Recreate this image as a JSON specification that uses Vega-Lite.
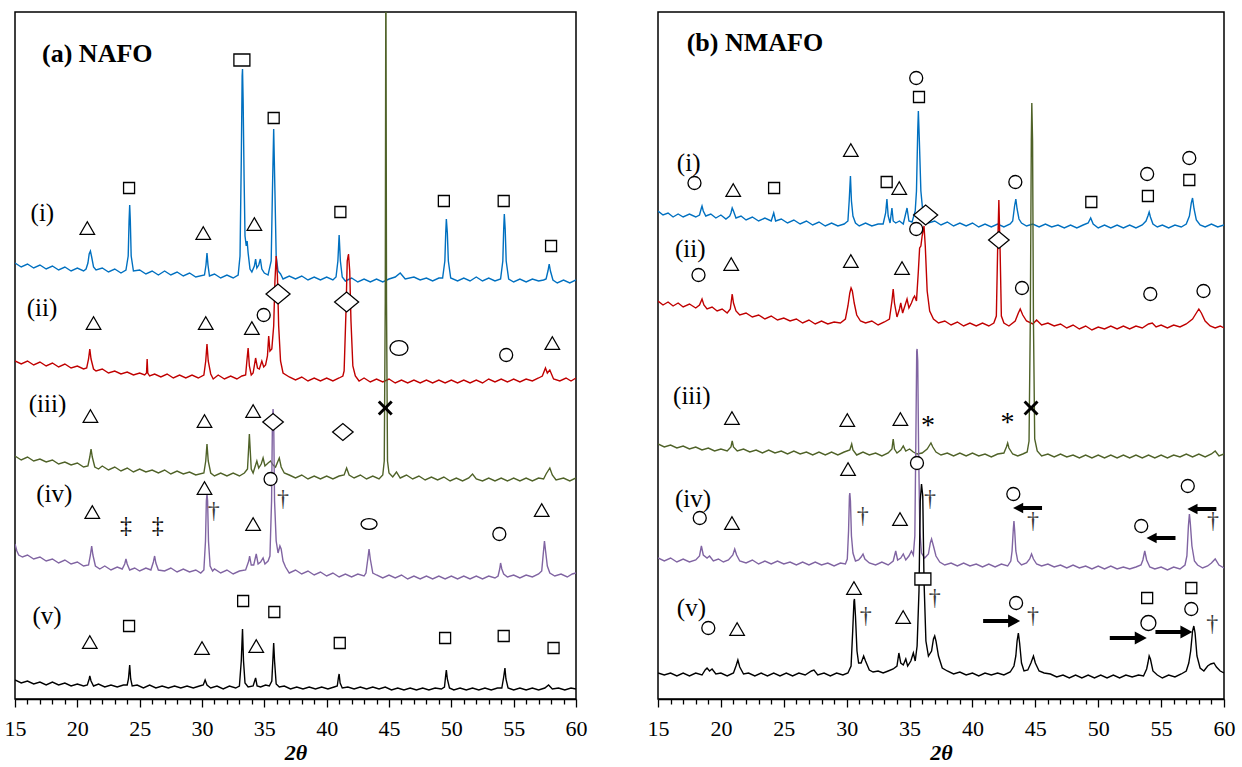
{
"$schema":"https://vega.github.io/schema/vega-lite/v6.json",
"background":"white",
"padding":{"left":3,"top":11,"right":0,"bottom":0},
"spacing":58,
"config":{"view":{"stroke":"black","strokeWidth":1.5},
"axis":{"labelFont":"Liberation Serif","labelFontSize":22,"labelColor":"black","labelFlush":false,"labelOverlap":false,"titleFont":"Liberation Serif","titleFontSize":22,"titleFontWeight":"bold","titleFontStyle":"italic","titleColor":"black","domainColor":"black","domainWidth":1.5,"tickColor":"black","tickWidth":1.3,"grid":false,"labelPadding":11,"titlePadding":3}},
"datasets":{
"L1":[{"x":15,"y":438},{"x":15.5,"y":434},{"x":16,"y":437},{"x":16.5,"y":433},{"x":17,"y":436},{"x":17.5,"y":432},{"x":18,"y":435},{"x":18.5,"y":431},{"x":19,"y":434},{"x":19.5,"y":430},{"x":20,"y":433},{"x":20.5,"y":430},{"x":20.7,"y":432},{"x":20.85,"y":438},{"x":20.95,"y":447},{"x":21.05,"y":450},{"x":21.15,"y":444},{"x":21.3,"y":434},{"x":21.5,"y":431},{"x":22,"y":433},{"x":22.5,"y":429},{"x":23,"y":432},{"x":23.5,"y":428},{"x":23.9,"y":431},{"x":24.08,"y":445},{"x":24.15,"y":480},{"x":24.2,"y":496},{"x":24.25,"y":480},{"x":24.32,"y":445},{"x":24.5,"y":430},{"x":25,"y":431},{"x":25.5,"y":427},{"x":26,"y":430},{"x":26.5,"y":426},{"x":27,"y":430},{"x":27.5,"y":426},{"x":28,"y":429},{"x":28.5,"y":425},{"x":29,"y":428},{"x":29.5,"y":424},{"x":30.2,"y":426},{"x":30.32,"y":436},{"x":30.4,"y":448},{"x":30.48,"y":436},{"x":30.6,"y":425},{"x":31,"y":427},{"x":31.5,"y":423},{"x":32,"y":426},{"x":32.5,"y":423},{"x":32.9,"y":426},{"x":33.05,"y":445},{"x":33.15,"y":540},{"x":33.22,"y":625},{"x":33.25,"y":632},{"x":33.3,"y":600},{"x":33.38,"y":520},{"x":33.45,"y":465},{"x":33.55,"y":455},{"x":33.62,"y":460},{"x":33.7,"y":448},{"x":33.85,"y":432},{"x":34,"y":429},{"x":34.2,"y":435},{"x":34.3,"y":442},{"x":34.4,"y":433},{"x":34.55,"y":436},{"x":34.68,"y":442},{"x":34.8,"y":432},{"x":35,"y":428},{"x":35.3,"y":426},{"x":35.55,"y":440},{"x":35.65,"y":510},{"x":35.75,"y":572},{"x":35.85,"y":510},{"x":35.95,"y":445},{"x":36.1,"y":430},{"x":36.3,"y":427},{"x":36.5,"y":422},{"x":37,"y":425},{"x":37.5,"y":422},{"x":38,"y":425},{"x":38.5,"y":421},{"x":39,"y":424},{"x":39.5,"y":421},{"x":40,"y":424},{"x":40.5,"y":421},{"x":40.75,"y":424},{"x":40.9,"y":440},{"x":41,"y":466},{"x":41.1,"y":440},{"x":41.25,"y":424},{"x":41.5,"y":420},{"x":42,"y":423},{"x":42.5,"y":419},{"x":43,"y":422},{"x":43.5,"y":419},{"x":44,"y":422},{"x":44.5,"y":419},{"x":45,"y":422},{"x":45.5,"y":424},{"x":45.9,"y":428},{"x":46.3,"y":422},{"x":47,"y":424},{"x":47.5,"y":421},{"x":48,"y":423},{"x":48.5,"y":420},{"x":49,"y":423},{"x":49.3,"y":423},{"x":49.48,"y":440},{"x":49.55,"y":468},{"x":49.6,"y":482},{"x":49.68,"y":468},{"x":49.76,"y":440},{"x":49.95,"y":423},{"x":50.5,"y":420},{"x":51,"y":423},{"x":51.5,"y":420},{"x":52,"y":424},{"x":52.5,"y":420},{"x":53,"y":423},{"x":53.5,"y":420},{"x":53.95,"y":422},{"x":54.13,"y":440},{"x":54.2,"y":472},{"x":54.25,"y":487},{"x":54.32,"y":472},{"x":54.4,"y":440},{"x":54.6,"y":422},{"x":55,"y":419},{"x":55.5,"y":422},{"x":56,"y":419},{"x":56.5,"y":422},{"x":57,"y":420},{"x":57.4,"y":421},{"x":57.6,"y":422},{"x":57.75,"y":430},{"x":57.85,"y":437},{"x":57.95,"y":430},{"x":58.15,"y":421},{"x":58.5,"y":418},{"x":59,"y":421},{"x":59.5,"y":418},{"x":60,"y":421}],
"L2":[{"x":15,"y":340},{"x":15.5,"y":337},{"x":16,"y":340},{"x":16.5,"y":336},{"x":17,"y":339},{"x":17.5,"y":335},{"x":18,"y":338},{"x":18.5,"y":334},{"x":19,"y":337},{"x":19.5,"y":333},{"x":20,"y":335},{"x":20.5,"y":332},{"x":20.75,"y":333},{"x":20.9,"y":342},{"x":21,"y":352},{"x":21.1,"y":342},{"x":21.3,"y":332},{"x":21.5,"y":330},{"x":22,"y":332},{"x":22.5,"y":328},{"x":23,"y":330},{"x":23.5,"y":327},{"x":24,"y":329},{"x":24.5,"y":326},{"x":25,"y":328},{"x":25.4,"y":326},{"x":25.55,"y":328},{"x":25.6,"y":342},{"x":25.65,"y":328},{"x":25.8,"y":325},{"x":26.2,"y":327},{"x":26.7,"y":324},{"x":27.2,"y":327},{"x":27.7,"y":323},{"x":28.2,"y":326},{"x":28.7,"y":323},{"x":29.2,"y":326},{"x":29.7,"y":323},{"x":30.15,"y":326},{"x":30.3,"y":340},{"x":30.4,"y":357},{"x":30.5,"y":340},{"x":30.7,"y":327},{"x":30.9,"y":322},{"x":31.3,"y":326},{"x":31.8,"y":322},{"x":32.3,"y":325},{"x":32.8,"y":322},{"x":33.2,"y":325},{"x":33.5,"y":326},{"x":33.6,"y":340},{"x":33.7,"y":353},{"x":33.8,"y":335},{"x":33.95,"y":326},{"x":34.1,"y":328},{"x":34.3,"y":343},{"x":34.45,"y":333},{"x":34.6,"y":332},{"x":34.8,"y":340},{"x":34.95,"y":334},{"x":35.1,"y":336},{"x":35.25,"y":345},{"x":35.35,"y":365},{"x":35.45,"y":350},{"x":35.6,"y":352},{"x":35.75,"y":375},{"x":35.85,"y":420},{"x":35.95,"y":445},{"x":36.05,"y":425},{"x":36.15,"y":375},{"x":36.3,"y":340},{"x":36.5,"y":328},{"x":37,"y":324},{"x":37.5,"y":321},{"x":38,"y":324},{"x":38.5,"y":320},{"x":39,"y":323},{"x":39.5,"y":320},{"x":40,"y":323},{"x":40.5,"y":320},{"x":41,"y":323},{"x":41.3,"y":325},{"x":41.4,"y":330},{"x":41.55,"y":390},{"x":41.65,"y":440},{"x":41.75,"y":447},{"x":41.85,"y":430},{"x":41.95,"y":380},{"x":42.1,"y":335},{"x":42.3,"y":325},{"x":42.6,"y":320},{"x":43,"y":323},{"x":43.5,"y":319},{"x":44,"y":322},{"x":44.5,"y":319},{"x":45,"y":322},{"x":45.5,"y":318},{"x":46,"y":321},{"x":46.5,"y":318},{"x":47,"y":321},{"x":47.5,"y":318},{"x":48,"y":321},{"x":48.5,"y":318},{"x":49,"y":321},{"x":49.5,"y":318},{"x":50,"y":321},{"x":50.5,"y":318},{"x":51,"y":321},{"x":51.5,"y":318},{"x":52,"y":321},{"x":52.5,"y":318},{"x":53,"y":322},{"x":53.5,"y":319},{"x":54,"y":322},{"x":54.5,"y":319},{"x":55,"y":322},{"x":55.5,"y":319},{"x":56,"y":322},{"x":56.5,"y":320},{"x":57,"y":323},{"x":57.3,"y":325},{"x":57.55,"y":333},{"x":57.7,"y":328},{"x":57.9,"y":331},{"x":58.2,"y":322},{"x":58.7,"y":320},{"x":59.2,"y":323},{"x":59.6,"y":320},{"x":60,"y":323}],
"L3":[{"x":15,"y":245},{"x":15.5,"y":241},{"x":16,"y":244},{"x":16.5,"y":240},{"x":17,"y":242},{"x":17.5,"y":239},{"x":18,"y":241},{"x":18.5,"y":237},{"x":19,"y":239},{"x":19.5,"y":236},{"x":20,"y":238},{"x":20.5,"y":234},{"x":20.85,"y":235},{"x":21,"y":244},{"x":21.1,"y":252},{"x":21.2,"y":244},{"x":21.4,"y":234},{"x":21.7,"y":232},{"x":22,"y":235},{"x":22.5,"y":231},{"x":23,"y":234},{"x":23.5,"y":230},{"x":24,"y":233},{"x":24.5,"y":229},{"x":25,"y":232},{"x":25.5,"y":229},{"x":26,"y":231},{"x":26.5,"y":228},{"x":27,"y":231},{"x":27.5,"y":227},{"x":28,"y":230},{"x":28.5,"y":227},{"x":29,"y":229},{"x":29.5,"y":226},{"x":30.15,"y":228},{"x":30.3,"y":240},{"x":30.4,"y":257},{"x":30.5,"y":240},{"x":30.7,"y":228},{"x":31,"y":225},{"x":31.5,"y":228},{"x":32,"y":225},{"x":32.5,"y":228},{"x":33,"y":225},{"x":33.4,"y":228},{"x":33.65,"y":232},{"x":33.75,"y":255},{"x":33.8,"y":267},{"x":33.85,"y":255},{"x":33.95,"y":232},{"x":34.1,"y":228},{"x":34.3,"y":236},{"x":34.4,"y":240},{"x":34.55,"y":233},{"x":34.75,"y":237},{"x":34.9,"y":243},{"x":35.05,"y":235},{"x":35.3,"y":238},{"x":35.5,"y":240},{"x":35.7,"y":236},{"x":35.9,"y":234},{"x":36.1,"y":240},{"x":36.2,"y":243},{"x":36.35,"y":234},{"x":36.6,"y":228},{"x":37,"y":226},{"x":37.5,"y":223},{"x":38,"y":226},{"x":38.5,"y":222},{"x":39,"y":225},{"x":39.5,"y":222},{"x":40,"y":225},{"x":40.5,"y":222},{"x":41,"y":225},{"x":41.4,"y":226},{"x":41.6,"y":233},{"x":41.8,"y":226},{"x":42.2,"y":223},{"x":42.7,"y":226},{"x":43.2,"y":222},{"x":43.7,"y":225},{"x":44.2,"y":222},{"x":44.5,"y":226},{"x":44.62,"y":240},{"x":44.7,"y":400},{"x":44.75,"y":760},{"x":44.8,"y":400},{"x":44.88,"y":240},{"x":45,"y":228},{"x":45.3,"y":224},{"x":45.6,"y":229},{"x":45.9,"y":223},{"x":46.4,"y":226},{"x":46.9,"y":222},{"x":47.4,"y":225},{"x":47.9,"y":221},{"x":48.4,"y":224},{"x":48.9,"y":221},{"x":49.4,"y":224},{"x":49.9,"y":220},{"x":50.4,"y":223},{"x":50.9,"y":220},{"x":51.4,"y":223},{"x":51.7,"y":227},{"x":52,"y":222},{"x":52.5,"y":220},{"x":53,"y":223},{"x":53.5,"y":220},{"x":54,"y":223},{"x":54.5,"y":220},{"x":55,"y":223},{"x":55.5,"y":220},{"x":56,"y":223},{"x":56.5,"y":220},{"x":57,"y":223},{"x":57.4,"y":222},{"x":57.6,"y":227},{"x":57.9,"y":233},{"x":58.1,"y":226},{"x":58.4,"y":221},{"x":59,"y":223},{"x":59.5,"y":220},{"x":60,"y":223}],
"L4":[{"x":15,"y":157},{"x":15.15,"y":150},{"x":15.3,"y":146},{"x":15.6,"y":144},{"x":16,"y":146},{"x":16.5,"y":142},{"x":17,"y":144},{"x":17.5,"y":140},{"x":18,"y":142},{"x":18.5,"y":138},{"x":19,"y":141},{"x":19.5,"y":137},{"x":20,"y":139},{"x":20.5,"y":135},{"x":20.9,"y":136},{"x":21.05,"y":146},{"x":21.15,"y":155},{"x":21.25,"y":146},{"x":21.45,"y":135},{"x":21.8,"y":132},{"x":22.2,"y":135},{"x":22.7,"y":131},{"x":23.2,"y":134},{"x":23.6,"y":132},{"x":23.8,"y":137},{"x":23.9,"y":142},{"x":24,"y":137},{"x":24.2,"y":131},{"x":24.6,"y":133},{"x":25,"y":130},{"x":25.5,"y":133},{"x":25.9,"y":131},{"x":26.1,"y":139},{"x":26.2,"y":145},{"x":26.3,"y":138},{"x":26.5,"y":131},{"x":27,"y":130},{"x":27.5,"y":133},{"x":28,"y":129},{"x":28.5,"y":132},{"x":29,"y":129},{"x":29.5,"y":131},{"x":29.9,"y":128},{"x":30.15,"y":131},{"x":30.28,"y":160},{"x":30.35,"y":200},{"x":30.4,"y":207},{"x":30.45,"y":200},{"x":30.52,"y":160},{"x":30.65,"y":135},{"x":30.85,"y":130},{"x":31,"y":132},{"x":31.5,"y":128},{"x":32,"y":131},{"x":32.5,"y":127},{"x":33,"y":130},{"x":33.5,"y":131},{"x":33.75,"y":140},{"x":33.82,"y":145},{"x":33.95,"y":136},{"x":34.15,"y":136},{"x":34.35,"y":147},{"x":34.5,"y":137},{"x":34.7,"y":139},{"x":34.9,"y":143},{"x":35.05,"y":137},{"x":35.3,"y":140},{"x":35.45,"y":145},{"x":35.58,"y":200},{"x":35.65,"y":280},{"x":35.7,"y":292},{"x":35.75,"y":280},{"x":35.82,"y":200},{"x":35.95,"y":160},{"x":36.1,"y":148},{"x":36.25,"y":155},{"x":36.35,"y":152},{"x":36.5,"y":140},{"x":36.7,"y":134},{"x":37,"y":128},{"x":37.5,"y":131},{"x":38,"y":127},{"x":38.5,"y":130},{"x":39,"y":126},{"x":39.5,"y":129},{"x":40,"y":125},{"x":40.5,"y":128},{"x":41,"y":124},{"x":41.5,"y":127},{"x":42,"y":124},{"x":42.5,"y":127},{"x":43,"y":125},{"x":43.15,"y":128},{"x":43.3,"y":142},{"x":43.4,"y":152},{"x":43.5,"y":142},{"x":43.7,"y":128},{"x":44,"y":126},{"x":44.5,"y":123},{"x":45,"y":126},{"x":45.5,"y":123},{"x":46,"y":126},{"x":46.5,"y":122},{"x":47,"y":125},{"x":47.5,"y":122},{"x":48,"y":125},{"x":48.5,"y":122},{"x":49,"y":125},{"x":49.5,"y":122},{"x":50,"y":125},{"x":50.5,"y":122},{"x":51,"y":125},{"x":51.5,"y":122},{"x":52,"y":125},{"x":52.5,"y":122},{"x":53,"y":125},{"x":53.5,"y":123},{"x":53.75,"y":125},{"x":53.88,"y":132},{"x":53.95,"y":138},{"x":54.05,"y":132},{"x":54.2,"y":127},{"x":54.5,"y":124},{"x":55,"y":126},{"x":55.5,"y":123},{"x":56,"y":126},{"x":56.5,"y":124},{"x":57,"y":127},{"x":57.25,"y":130},{"x":57.38,"y":148},{"x":57.47,"y":160},{"x":57.56,"y":150},{"x":57.7,"y":135},{"x":57.9,"y":128},{"x":58.3,"y":125},{"x":58.8,"y":127},{"x":59.3,"y":124},{"x":59.7,"y":127},{"x":60,"y":128}],
"L5":[{"x":15,"y":21},{"x":15.5,"y":18},{"x":16,"y":20},{"x":16.5,"y":17},{"x":17,"y":19},{"x":17.5,"y":16},{"x":18,"y":19},{"x":18.5,"y":16},{"x":19,"y":18},{"x":19.5,"y":15},{"x":20,"y":17},{"x":20.5,"y":15},{"x":20.8,"y":16},{"x":20.95,"y":22},{"x":21,"y":25},{"x":21.1,"y":20},{"x":21.3,"y":15},{"x":21.7,"y":17},{"x":22.2,"y":14},{"x":22.7,"y":16},{"x":23.2,"y":14},{"x":23.7,"y":16},{"x":24,"y":16},{"x":24.1,"y":22},{"x":24.2,"y":36},{"x":24.28,"y":22},{"x":24.4,"y":15},{"x":24.8,"y":16},{"x":25.3,"y":13},{"x":25.8,"y":16},{"x":26.3,"y":13},{"x":26.8,"y":15},{"x":27.3,"y":13},{"x":27.8,"y":15},{"x":28.3,"y":13},{"x":28.8,"y":15},{"x":29.3,"y":13},{"x":29.8,"y":15},{"x":30.1,"y":16},{"x":30.25,"y":21},{"x":30.4,"y":16},{"x":30.7,"y":13},{"x":31.2,"y":15},{"x":31.7,"y":12},{"x":32.2,"y":15},{"x":32.7,"y":13},{"x":33,"y":15},{"x":33.15,"y":40},{"x":33.25,"y":72},{"x":33.33,"y":40},{"x":33.45,"y":18},{"x":33.7,"y":14},{"x":34.1,"y":15},{"x":34.3,"y":23},{"x":34.42,"y":15},{"x":34.7,"y":14},{"x":35.1,"y":16},{"x":35.4,"y":15},{"x":35.6,"y":20},{"x":35.7,"y":45},{"x":35.75,"y":58},{"x":35.82,"y":40},{"x":35.95,"y":17},{"x":36.2,"y":14},{"x":36.6,"y":15},{"x":37.1,"y":12},{"x":37.6,"y":14},{"x":38.1,"y":12},{"x":38.6,"y":14},{"x":39.1,"y":12},{"x":39.6,"y":14},{"x":40.1,"y":12},{"x":40.6,"y":14},{"x":40.85,"y":15},{"x":40.95,"y":24},{"x":41,"y":27},{"x":41.08,"y":18},{"x":41.25,"y":13},{"x":41.7,"y":14},{"x":42.2,"y":12},{"x":42.7,"y":14},{"x":43.2,"y":12},{"x":43.7,"y":14},{"x":44.2,"y":12},{"x":44.7,"y":14},{"x":45.2,"y":11},{"x":45.7,"y":13},{"x":46.2,"y":11},{"x":46.7,"y":13},{"x":47.2,"y":11},{"x":47.7,"y":13},{"x":48.2,"y":11},{"x":48.7,"y":13},{"x":49.2,"y":12},{"x":49.45,"y":14},{"x":49.55,"y":26},{"x":49.6,"y":31},{"x":49.68,"y":22},{"x":49.85,"y":13},{"x":50.2,"y":11},{"x":50.7,"y":13},{"x":51.2,"y":11},{"x":51.7,"y":13},{"x":52.2,"y":11},{"x":52.7,"y":13},{"x":53.2,"y":11},{"x":53.7,"y":13},{"x":54.05,"y":13},{"x":54.2,"y":24},{"x":54.3,"y":33},{"x":54.38,"y":22},{"x":54.55,"y":13},{"x":55,"y":11},{"x":55.5,"y":13},{"x":56,"y":11},{"x":56.5,"y":13},{"x":57,"y":11},{"x":57.5,"y":13},{"x":57.8,"y":16},{"x":58.1,"y":12},{"x":58.6,"y":13},{"x":59.1,"y":11},{"x":59.6,"y":13},{"x":60,"y":12}],
"R1":[{"x":15,"y":490},{"x":15.4,"y":486},{"x":15.8,"y":488},{"x":16.2,"y":484},{"x":16.6,"y":487},{"x":17,"y":484},{"x":17.5,"y":487},{"x":18,"y":484},{"x":18.3,"y":486},{"x":18.45,"y":493},{"x":18.5,"y":495},{"x":18.6,"y":490},{"x":18.8,"y":485},{"x":19.2,"y":487},{"x":19.6,"y":483},{"x":20,"y":486},{"x":20.4,"y":482},{"x":20.7,"y":485},{"x":20.8,"y":488},{"x":20.9,"y":493},{"x":21,"y":490},{"x":21.2,"y":483},{"x":21.6,"y":485},{"x":22,"y":481},{"x":22.5,"y":484},{"x":23,"y":480},{"x":23.5,"y":483},{"x":24,"y":480},{"x":24.2,"y":488},{"x":24.35,"y":480},{"x":24.8,"y":482},{"x":25.3,"y":478},{"x":25.8,"y":481},{"x":26.3,"y":477},{"x":26.8,"y":480},{"x":27.3,"y":476},{"x":27.8,"y":479},{"x":28.3,"y":475},{"x":28.8,"y":478},{"x":29.3,"y":475},{"x":29.8,"y":477},{"x":30.1,"y":480},{"x":30.2,"y":500},{"x":30.3,"y":525},{"x":30.38,"y":500},{"x":30.5,"y":485},{"x":30.7,"y":478},{"x":31,"y":475},{"x":31.5,"y":478},{"x":32,"y":475},{"x":32.5,"y":477},{"x":32.9,"y":477},{"x":33.1,"y":488},{"x":33.2,"y":502},{"x":33.3,"y":485},{"x":33.45,"y":478},{"x":33.6,"y":493},{"x":33.7,"y":480},{"x":33.9,"y":478},{"x":34.2,"y":480},{"x":34.5,"y":477},{"x":34.8,"y":493},{"x":34.95,"y":480},{"x":35.2,"y":479},{"x":35.45,"y":490},{"x":35.55,"y":510},{"x":35.65,"y":570},{"x":35.7,"y":590},{"x":35.78,"y":560},{"x":35.9,"y":510},{"x":36.05,"y":490},{"x":36.25,"y":482},{"x":36.5,"y":478},{"x":37,"y":480},{"x":37.5,"y":476},{"x":38,"y":479},{"x":38.5,"y":475},{"x":39,"y":478},{"x":39.5,"y":475},{"x":40,"y":478},{"x":40.5,"y":474},{"x":41,"y":477},{"x":41.5,"y":474},{"x":42,"y":477},{"x":42.5,"y":474},{"x":43,"y":477},{"x":43.2,"y":480},{"x":43.35,"y":495},{"x":43.45,"y":502},{"x":43.55,"y":492},{"x":43.7,"y":482},{"x":43.9,"y":478},{"x":44.3,"y":475},{"x":44.8,"y":477},{"x":45.3,"y":474},{"x":45.8,"y":477},{"x":46.3,"y":474},{"x":46.8,"y":476},{"x":47.3,"y":473},{"x":47.8,"y":476},{"x":48.3,"y":473},{"x":48.8,"y":476},{"x":49.2,"y":478},{"x":49.4,"y":483},{"x":49.6,"y":477},{"x":50,"y":473},{"x":50.5,"y":476},{"x":51,"y":473},{"x":51.5,"y":476},{"x":52,"y":473},{"x":52.5,"y":476},{"x":53,"y":473},{"x":53.5,"y":476},{"x":53.8,"y":480},{"x":53.95,"y":485},{"x":54.05,"y":489},{"x":54.15,"y":484},{"x":54.35,"y":477},{"x":54.7,"y":474},{"x":55.1,"y":476},{"x":55.6,"y":473},{"x":56.1,"y":476},{"x":56.6,"y":474},{"x":57,"y":477},{"x":57.25,"y":485},{"x":57.4,"y":498},{"x":57.5,"y":503},{"x":57.62,"y":492},{"x":57.8,"y":481},{"x":58.1,"y":476},{"x":58.5,"y":474},{"x":59,"y":477},{"x":59.5,"y":474},{"x":60,"y":476}],
"R2":[{"x":15,"y":400},{"x":15.4,"y":396},{"x":15.8,"y":399},{"x":16.2,"y":395},{"x":16.6,"y":398},{"x":17,"y":394},{"x":17.5,"y":397},{"x":18,"y":393},{"x":18.3,"y":396},{"x":18.5,"y":402},{"x":18.65,"y":396},{"x":18.9,"y":392},{"x":19.3,"y":394},{"x":19.7,"y":390},{"x":20.1,"y":392},{"x":20.5,"y":388},{"x":20.75,"y":392},{"x":20.9,"y":407},{"x":21,"y":398},{"x":21.2,"y":390},{"x":21.5,"y":386},{"x":22,"y":388},{"x":22.5,"y":384},{"x":23,"y":386},{"x":23.5,"y":382},{"x":24,"y":385},{"x":24.5,"y":381},{"x":25,"y":383},{"x":25.5,"y":380},{"x":26,"y":382},{"x":26.5,"y":378},{"x":27,"y":381},{"x":27.5,"y":377},{"x":28,"y":380},{"x":28.5,"y":377},{"x":29,"y":379},{"x":29.5,"y":378},{"x":29.9,"y":382},{"x":30.1,"y":395},{"x":30.25,"y":408},{"x":30.35,"y":413},{"x":30.45,"y":410},{"x":30.6,"y":398},{"x":30.8,"y":386},{"x":31.1,"y":380},{"x":31.5,"y":378},{"x":32,"y":380},{"x":32.5,"y":376},{"x":33,"y":379},{"x":33.4,"y":382},{"x":33.6,"y":400},{"x":33.7,"y":412},{"x":33.8,"y":398},{"x":34,"y":384},{"x":34.2,"y":392},{"x":34.3,"y":398},{"x":34.45,"y":388},{"x":34.65,"y":396},{"x":34.8,"y":402},{"x":34.95,"y":393},{"x":35.15,"y":398},{"x":35.3,"y":403},{"x":35.4,"y":405},{"x":35.55,"y":400},{"x":35.7,"y":430},{"x":35.8,"y":453},{"x":35.9,"y":455},{"x":36,"y":465},{"x":36.15,"y":475},{"x":36.25,"y":455},{"x":36.4,"y":410},{"x":36.6,"y":390},{"x":36.9,"y":382},{"x":37.3,"y":378},{"x":37.8,"y":380},{"x":38.3,"y":376},{"x":38.8,"y":379},{"x":39.3,"y":375},{"x":39.8,"y":378},{"x":40.3,"y":375},{"x":40.8,"y":378},{"x":41.3,"y":375},{"x":41.7,"y":378},{"x":41.9,"y":385},{"x":42,"y":450},{"x":42.1,"y":501},{"x":42.2,"y":450},{"x":42.3,"y":385},{"x":42.5,"y":378},{"x":42.9,"y":375},{"x":43.4,"y":380},{"x":43.65,"y":388},{"x":43.8,"y":392},{"x":44,"y":386},{"x":44.3,"y":380},{"x":44.8,"y":377},{"x":45.1,"y":381},{"x":45.5,"y":376},{"x":46,"y":378},{"x":46.5,"y":375},{"x":47,"y":377},{"x":47.5,"y":373},{"x":48,"y":376},{"x":48.5,"y":372},{"x":49,"y":375},{"x":49.5,"y":371},{"x":50,"y":374},{"x":50.5,"y":372},{"x":51,"y":375},{"x":51.5,"y":372},{"x":52,"y":375},{"x":52.5,"y":372},{"x":53,"y":375},{"x":53.5,"y":373},{"x":54,"y":377},{"x":54.3,"y":378},{"x":54.6,"y":374},{"x":55,"y":376},{"x":55.5,"y":373},{"x":56,"y":376},{"x":56.5,"y":374},{"x":57,"y":377},{"x":57.5,"y":382},{"x":57.8,"y":388},{"x":58,"y":392},{"x":58.2,"y":388},{"x":58.5,"y":380},{"x":58.9,"y":375},{"x":59.3,"y":373},{"x":59.7,"y":375},{"x":60,"y":373}],
"R3":[{"x":15,"y":257},{"x":15.5,"y":254},{"x":16,"y":256},{"x":16.5,"y":253},{"x":17,"y":255},{"x":17.5,"y":252},{"x":18,"y":254},{"x":18.5,"y":251},{"x":19,"y":253},{"x":19.5,"y":250},{"x":20,"y":252},{"x":20.5,"y":250},{"x":20.8,"y":254},{"x":20.9,"y":260},{"x":21,"y":254},{"x":21.3,"y":250},{"x":21.8,"y":252},{"x":22.3,"y":249},{"x":22.8,"y":251},{"x":23.3,"y":248},{"x":23.8,"y":251},{"x":24.3,"y":248},{"x":24.8,"y":250},{"x":25.3,"y":247},{"x":25.8,"y":250},{"x":26.3,"y":247},{"x":26.8,"y":249},{"x":27.3,"y":246},{"x":27.8,"y":249},{"x":28.3,"y":246},{"x":28.8,"y":249},{"x":29.3,"y":246},{"x":29.8,"y":249},{"x":30.25,"y":251},{"x":30.4,"y":257},{"x":30.5,"y":251},{"x":30.8,"y":246},{"x":31.3,"y":249},{"x":31.8,"y":246},{"x":32.3,"y":248},{"x":32.8,"y":245},{"x":33.3,"y":248},{"x":33.6,"y":252},{"x":33.7,"y":262},{"x":33.8,"y":252},{"x":34,"y":248},{"x":34.3,"y":251},{"x":34.5,"y":255},{"x":34.7,"y":250},{"x":35,"y":252},{"x":35.3,"y":249},{"x":35.6,"y":247},{"x":36,"y":248},{"x":36.4,"y":252},{"x":36.6,"y":256},{"x":36.7,"y":258},{"x":36.85,"y":254},{"x":37.1,"y":249},{"x":37.5,"y":246},{"x":38,"y":248},{"x":38.5,"y":245},{"x":39,"y":248},{"x":39.5,"y":245},{"x":40,"y":248},{"x":40.5,"y":245},{"x":41,"y":247},{"x":41.5,"y":244},{"x":42,"y":247},{"x":42.5,"y":248},{"x":42.7,"y":254},{"x":42.8,"y":258},{"x":42.9,"y":253},{"x":43.2,"y":247},{"x":43.6,"y":245},{"x":44,"y":247},{"x":44.35,"y":249},{"x":44.5,"y":260},{"x":44.6,"y":380},{"x":44.68,"y":560},{"x":44.72,"y":598},{"x":44.78,"y":560},{"x":44.85,"y":380},{"x":44.95,"y":262},{"x":45.15,"y":250},{"x":45.5,"y":245},{"x":46,"y":247},{"x":46.5,"y":244},{"x":47,"y":247},{"x":47.5,"y":244},{"x":48,"y":246},{"x":48.5,"y":243},{"x":49,"y":246},{"x":49.5,"y":243},{"x":50,"y":246},{"x":50.5,"y":243},{"x":51,"y":246},{"x":51.5,"y":243},{"x":52,"y":246},{"x":52.5,"y":243},{"x":53,"y":246},{"x":53.5,"y":243},{"x":54,"y":246},{"x":54.5,"y":243},{"x":55,"y":246},{"x":55.5,"y":243},{"x":56,"y":246},{"x":56.5,"y":244},{"x":57,"y":247},{"x":57.5,"y":244},{"x":58,"y":247},{"x":58.5,"y":244},{"x":59,"y":247},{"x":59.3,"y":250},{"x":59.6,"y":245},{"x":60,"y":247}],
"R4":[{"x":15,"y":143},{"x":15.5,"y":140},{"x":16,"y":143},{"x":16.5,"y":139},{"x":17,"y":142},{"x":17.5,"y":139},{"x":18,"y":141},{"x":18.3,"y":145},{"x":18.45,"y":155},{"x":18.6,"y":146},{"x":18.9,"y":143},{"x":19.1,"y":145},{"x":19.4,"y":140},{"x":19.8,"y":142},{"x":20.2,"y":139},{"x":20.6,"y":141},{"x":20.95,"y":146},{"x":21.1,"y":152},{"x":21.25,"y":146},{"x":21.5,"y":140},{"x":22,"y":138},{"x":22.5,"y":141},{"x":23,"y":137},{"x":23.5,"y":140},{"x":24,"y":137},{"x":24.5,"y":140},{"x":25,"y":137},{"x":25.5,"y":139},{"x":26,"y":136},{"x":26.5,"y":139},{"x":27,"y":136},{"x":27.5,"y":139},{"x":28,"y":136},{"x":28.5,"y":138},{"x":29,"y":135},{"x":29.5,"y":138},{"x":29.9,"y":137},{"x":30.05,"y":142},{"x":30.15,"y":170},{"x":30.22,"y":205},{"x":30.25,"y":208},{"x":30.3,"y":200},{"x":30.38,"y":165},{"x":30.5,"y":148},{"x":30.7,"y":140},{"x":30.95,"y":141},{"x":31.15,"y":144},{"x":31.3,"y":147},{"x":31.45,"y":142},{"x":31.8,"y":138},{"x":32.3,"y":136},{"x":32.8,"y":139},{"x":33.3,"y":136},{"x":33.7,"y":140},{"x":33.9,"y":150},{"x":34.05,"y":141},{"x":34.3,"y":143},{"x":34.5,"y":147},{"x":34.7,"y":141},{"x":34.95,"y":145},{"x":35.15,"y":150},{"x":35.3,"y":146},{"x":35.42,"y":165},{"x":35.5,"y":260},{"x":35.57,"y":350},{"x":35.6,"y":352},{"x":35.65,"y":340},{"x":35.72,"y":250},{"x":35.82,"y":170},{"x":35.95,"y":148},{"x":36.2,"y":143},{"x":36.5,"y":147},{"x":36.65,"y":158},{"x":36.75,"y":162},{"x":36.9,"y":155},{"x":37.1,"y":145},{"x":37.4,"y":139},{"x":37.8,"y":136},{"x":38.3,"y":138},{"x":38.8,"y":135},{"x":39.3,"y":138},{"x":39.8,"y":135},{"x":40.3,"y":137},{"x":40.8,"y":134},{"x":41.3,"y":137},{"x":41.8,"y":134},{"x":42.3,"y":137},{"x":42.8,"y":135},{"x":43.05,"y":140},{"x":43.15,"y":150},{"x":43.25,"y":172},{"x":43.3,"y":180},{"x":43.36,"y":170},{"x":43.45,"y":150},{"x":43.6,"y":140},{"x":43.9,"y":136},{"x":44.3,"y":138},{"x":44.55,"y":142},{"x":44.7,"y":147},{"x":44.85,"y":142},{"x":45.1,"y":137},{"x":45.5,"y":135},{"x":46,"y":137},{"x":46.5,"y":134},{"x":47,"y":136},{"x":47.5,"y":133},{"x":48,"y":136},{"x":48.5,"y":133},{"x":49,"y":135},{"x":49.5,"y":132},{"x":50,"y":135},{"x":50.5,"y":132},{"x":51,"y":135},{"x":51.5,"y":132},{"x":52,"y":134},{"x":52.5,"y":132},{"x":53,"y":134},{"x":53.4,"y":136},{"x":53.55,"y":141},{"x":53.7,"y":150},{"x":53.85,"y":141},{"x":54.1,"y":134},{"x":54.5,"y":132},{"x":55,"y":134},{"x":55.5,"y":131},{"x":56,"y":134},{"x":56.5,"y":132},{"x":56.9,"y":136},{"x":57.05,"y":145},{"x":57.17,"y":175},{"x":57.25,"y":187},{"x":57.32,"y":178},{"x":57.45,"y":155},{"x":57.65,"y":140},{"x":57.9,"y":136},{"x":58.3,"y":133},{"x":58.7,"y":135},{"x":59,"y":138},{"x":59.3,"y":142},{"x":59.6,"y":136},{"x":60,"y":133}],
"R5":[{"x":15,"y":28},{"x":15.5,"y":26},{"x":16,"y":28},{"x":16.5,"y":25},{"x":17,"y":28},{"x":17.5,"y":25},{"x":18,"y":28},{"x":18.5,"y":26},{"x":18.75,"y":31},{"x":18.9,"y":33},{"x":19.1,"y":30},{"x":19.3,"y":32},{"x":19.6,"y":27},{"x":20,"y":28},{"x":20.5,"y":25},{"x":21,"y":28},{"x":21.2,"y":35},{"x":21.35,"y":41},{"x":21.5,"y":34},{"x":21.8,"y":27},{"x":22.2,"y":28},{"x":22.7,"y":25},{"x":23.2,"y":28},{"x":23.7,"y":25},{"x":24.2,"y":28},{"x":24.7,"y":25},{"x":25.2,"y":28},{"x":25.7,"y":25},{"x":26.2,"y":28},{"x":26.7,"y":26},{"x":27.2,"y":30},{"x":27.4,"y":31},{"x":27.7,"y":26},{"x":28.2,"y":28},{"x":28.7,"y":25},{"x":29.2,"y":28},{"x":29.7,"y":26},{"x":30.1,"y":28},{"x":30.35,"y":35},{"x":30.48,"y":70},{"x":30.58,"y":100},{"x":30.62,"y":102},{"x":30.7,"y":85},{"x":30.82,"y":50},{"x":30.95,"y":38},{"x":31.15,"y":38},{"x":31.35,"y":45},{"x":31.5,"y":40},{"x":31.8,"y":31},{"x":32.1,"y":29},{"x":32.5,"y":30},{"x":32.9,"y":28},{"x":33.3,"y":30},{"x":33.7,"y":32},{"x":34,"y":35},{"x":34.15,"y":48},{"x":34.3,"y":38},{"x":34.5,"y":36},{"x":34.7,"y":42},{"x":34.85,"y":35},{"x":35.1,"y":40},{"x":35.3,"y":48},{"x":35.45,"y":40},{"x":35.6,"y":55},{"x":35.75,"y":110},{"x":35.85,"y":200},{"x":35.95,"y":217},{"x":36.05,"y":205},{"x":36.15,"y":120},{"x":36.3,"y":60},{"x":36.5,"y":45},{"x":36.75,"y":50},{"x":36.9,"y":62},{"x":37,"y":65},{"x":37.1,"y":60},{"x":37.3,"y":45},{"x":37.6,"y":33},{"x":38,"y":30},{"x":38.5,"y":27},{"x":39,"y":29},{"x":39.5,"y":26},{"x":40,"y":28},{"x":40.5,"y":25},{"x":41,"y":28},{"x":41.5,"y":26},{"x":42,"y":28},{"x":42.5,"y":26},{"x":43,"y":29},{"x":43.3,"y":35},{"x":43.45,"y":45},{"x":43.55,"y":60},{"x":43.65,"y":68},{"x":43.75,"y":58},{"x":43.9,"y":38},{"x":44.1,"y":30},{"x":44.4,"y":31},{"x":44.65,"y":38},{"x":44.85,"y":45},{"x":45,"y":38},{"x":45.3,"y":30},{"x":45.7,"y":28},{"x":46.2,"y":27},{"x":46.7,"y":24},{"x":47.2,"y":26},{"x":47.7,"y":23},{"x":48.2,"y":26},{"x":48.7,"y":23},{"x":49.2,"y":26},{"x":49.7,"y":23},{"x":50.2,"y":26},{"x":50.7,"y":23},{"x":51.2,"y":26},{"x":51.7,"y":23},{"x":52.2,"y":26},{"x":52.7,"y":24},{"x":53.2,"y":26},{"x":53.6,"y":25},{"x":53.85,"y":32},{"x":53.95,"y":38},{"x":54.05,"y":45},{"x":54.15,"y":42},{"x":54.35,"y":30},{"x":54.7,"y":26},{"x":55.1,"y":23},{"x":55.6,"y":26},{"x":56.1,"y":24},{"x":56.6,"y":27},{"x":57,"y":30},{"x":57.2,"y":38},{"x":57.35,"y":50},{"x":57.5,"y":70},{"x":57.6,"y":75},{"x":57.7,"y":68},{"x":57.85,"y":45},{"x":58.1,"y":33},{"x":58.4,"y":30},{"x":58.7,"y":35},{"x":58.95,"y":37},{"x":59.2,"y":38},{"x":59.4,"y":34},{"x":59.7,"y":30},{"x":60,"y":28}],
"LA":[{"k":"tit","x":17.17,"y":647,"t":"(a) NAFO"},{"k":"lab","x":16.25,"y":488,"t":"(i)"},{"k":"lab","x":15.94,"y":393,"t":"(ii)"},{"k":"lab","x":16.1,"y":297,"t":"(iii)"},{"k":"lab","x":16.7,"y":207,"t":"(iv)"},{"k":"lab","x":16.4,"y":85,"t":"(v)"},
{"k":"bsq","x":33.2,"y":641},
{"k":"sq","x":35.75,"y":583},{"k":"sq","x":24.15,"y":513},{"k":"sq","x":41.1,"y":489},{"k":"sq","x":49.4,"y":500},{"k":"sq","x":54.2,"y":500},{"k":"sq","x":58.0,"y":455},{"k":"sq","x":33.3,"y":100},{"k":"sq","x":35.8,"y":89},{"k":"sq","x":24.15,"y":75},{"k":"sq","x":41.05,"y":58},{"k":"sq","x":49.5,"y":63},{"k":"sq","x":54.2,"y":65},{"k":"sq","x":58.2,"y":53},
{"k":"tri","x":20.8,"y":473},{"k":"tri","x":30.1,"y":468},{"k":"tri","x":34.2,"y":477},{"k":"tri","x":21.3,"y":378},{"k":"tri","x":30.3,"y":378},{"k":"tri","x":34.0,"y":373},{"k":"tri","x":58.1,"y":358},{"k":"tri","x":21.05,"y":285},{"k":"tri","x":30.2,"y":280},{"k":"tri","x":34.1,"y":290},{"k":"tri","x":30.2,"y":213},{"k":"tri","x":21.2,"y":189},{"k":"tri","x":34.1,"y":177},{"k":"tri","x":57.25,"y":191},{"k":"tri","x":21.0,"y":59},{"k":"tri","x":30.0,"y":53},{"k":"tri","x":34.35,"y":55},
{"k":"cir","x":34.95,"y":386},{"k":"cir","x":54.4,"y":346},{"k":"cir","x":35.5,"y":222},{"k":"cir","x":53.85,"y":167},
{"k":"ell1","x":45.8,"y":353},{"k":"ell2","x":43.4,"y":177},
{"k":"dia","x":36.1,"y":407},{"k":"dia","x":41.6,"y":399},{"k":"dia2","x":35.7,"y":279},{"k":"dia2","x":41.3,"y":269},
{"k":"xx","x":44.7,"y":293},
{"k":"dag","x":30.95,"y":190,"t":"†"},{"k":"dag","x":36.5,"y":202,"t":"†"},
{"k":"ddag","x":23.9,"y":175,"t":"‡"},{"k":"ddag","x":26.45,"y":175,"t":"‡"}],
"RA":[{"k":"tit","x":17.28,"y":658,"t":"(b) NMAFO"},{"k":"lab","x":16.5,"y":538,"t":"(i)"},{"k":"lab","x":16.35,"y":452,"t":"(ii)"},{"k":"lab","x":16.2,"y":305,"t":"(iii)"},{"k":"lab","x":16.35,"y":202,"t":"(iv)"},{"k":"lab","x":16.5,"y":93,"t":"(v)"},
{"k":"sq","x":35.75,"y":604},{"k":"sq","x":24.23,"y":513},{"k":"sq","x":33.18,"y":519},{"k":"sq","x":49.45,"y":499},{"k":"sq","x":53.95,"y":505},{"k":"sq","x":57.24,"y":521},{"k":"sq","x":53.89,"y":103},{"k":"sq","x":57.4,"y":113},
{"k":"bsq","x":36.06,"y":122},
{"k":"cir","x":35.53,"y":623},{"k":"cir","x":17.9,"y":518},{"k":"cir","x":35.53,"y":472},{"k":"cir","x":43.41,"y":519},{"k":"cir","x":53.89,"y":527},{"k":"cir","x":57.24,"y":543},{"k":"cir","x":18.22,"y":426},{"k":"cir","x":43.94,"y":413},{"k":"cir","x":54.14,"y":407},{"k":"cir","x":58.37,"y":410},{"k":"cir","x":35.59,"y":238},{"k":"cir","x":18.32,"y":183},{"k":"cir","x":43.25,"y":207},{"k":"cir","x":57.12,"y":215},{"k":"cir","x":53.42,"y":175},{"k":"cir","x":19.0,"y":73},{"k":"cir","x":43.47,"y":98},{"k":"cir","x":57.4,"y":92},
{"k":"bcir","x":53.99,"y":78},
{"k":"tri","x":30.33,"y":551},{"k":"tri","x":20.98,"y":511},{"k":"tri","x":34.18,"y":513},{"k":"tri","x":20.82,"y":437},{"k":"tri","x":30.33,"y":440},{"k":"tri","x":34.4,"y":433},{"k":"tri","x":20.88,"y":283},{"k":"tri","x":30.05,"y":281},{"k":"tri","x":34.27,"y":282},{"k":"tri","x":30.11,"y":232},{"k":"tri","x":20.88,"y":178},{"k":"tri","x":34.24,"y":182},{"k":"tri","x":30.58,"y":113},{"k":"tri","x":34.49,"y":84},{"k":"tri","x":21.29,"y":72},
{"k":"dia","x":36.28,"y":486},{"k":"dia2","x":42.1,"y":461},
{"k":"ast","x":36.46,"y":280,"t":"*"},{"k":"ast","x":42.78,"y":283,"t":"*"},
{"k":"xx","x":44.66,"y":293},
{"k":"dag","x":36.62,"y":202,"t":"†"},{"k":"dag","x":31.27,"y":185,"t":"†"},{"k":"dag","x":44.82,"y":180,"t":"†"},{"k":"dag","x":59.12,"y":180,"t":"†"},{"k":"dag","x":37.0,"y":103,"t":"†"},{"k":"dag","x":31.52,"y":85,"t":"†"},{"k":"dag","x":44.82,"y":85,"t":"†"},{"k":"dag","x":59.06,"y":77,"t":"†"},
{"k":"la","x":44.38,"y":193},{"k":"la","x":58.24,"y":192},{"k":"la","x":54.99,"y":163},
{"k":"ra","x":42.32,"y":80},{"k":"ra","x":52.39,"y":63},{"k":"ra","x":56.02,"y":69}]
},
"hconcat":[
{"width":561,"height":687,
"encoding":{"x":{"field":"x","type":"quantitative","scale":{"domain":[15,60],"nice":false,"zero":false},"axis":{"title":"2θ","values":[15,16,17,18,19,20,21,22,23,24,25,26,27,28,29,30,31,32,33,34,35,36,37,38,39,40,41,42,43,44,45,46,47,48,49,50,51,52,53,54,55,56,57,58,59,60],"labelExpr":"datum.value % 5 === 0 ? datum.label : ''","tickSize":{"condition":{"test":"datum.value % 5 === 0","value":8},"value":5}}},
"y":{"field":"y","type":"quantitative","scale":{"domain":[2,689],"nice":false,"zero":false},"axis":null}},
"layer":[
{"data":{"name":"L1"},"mark":{"type":"line","color":"#0070C0","strokeWidth":1.4,"clip":true}},
{"data":{"name":"L2"},"mark":{"type":"line","color":"#C00000","strokeWidth":1.4,"clip":true}},
{"data":{"name":"L3"},"mark":{"type":"line","color":"#4F6228","strokeWidth":1.4,"clip":true}},
{"data":{"name":"L4"},"mark":{"type":"line","color":"#8064A2","strokeWidth":1.4,"clip":true}},
{"data":{"name":"L5"},"mark":{"type":"line","color":"#000000","strokeWidth":1.4,"clip":true}},
{"data":{"name":"LA"},"transform":[{"filter":"datum.k === 'sq'"}],"mark":{"type":"point","shape":"square","size":121,"filled":true,"fill":"white","stroke":"black","strokeWidth":1.3,"opacity":1}},
{"data":{"name":"LA"},"transform":[{"filter":"datum.k === 'bsq'"}],"mark":{"type":"point","shape":"M-1,-0.75H1V0.75H-1Z","size":256,"filled":true,"fill":"white","stroke":"black","strokeWidth":1.3,"opacity":1}},
{"data":{"name":"LA"},"transform":[{"filter":"datum.k === 'tri'"}],"mark":{"type":"point","shape":"triangle-up","size":210,"filled":true,"fill":"white","stroke":"black","strokeWidth":1.3,"opacity":1}},
{"data":{"name":"LA"},"transform":[{"filter":"datum.k === 'cir'"}],"mark":{"type":"point","shape":"circle","size":169,"filled":true,"fill":"white","stroke":"black","strokeWidth":1.3,"opacity":1}},
{"data":{"name":"LA"},"transform":[{"filter":"datum.k === 'ell1'"}],"mark":{"type":"point","shape":"M-1,0A1,0.83,0,1,0,1,0A1,0.83,0,1,0,-1,0Z","size":324,"filled":true,"fill":"white","stroke":"black","strokeWidth":1.3,"opacity":1}},
{"data":{"name":"LA"},"transform":[{"filter":"datum.k === 'ell2'"}],"mark":{"type":"point","shape":"M-1,0A1,0.68,0,1,0,1,0A1,0.68,0,1,0,-1,0Z","size":256,"filled":true,"fill":"white","stroke":"black","strokeWidth":1.3,"opacity":1}},
{"data":{"name":"LA"},"transform":[{"filter":"datum.k === 'dia'"}],"mark":{"type":"point","shape":"M-1,0L0,-0.83L1,0L0,0.83Z","size":576,"filled":true,"fill":"white","stroke":"black","strokeWidth":1.3,"opacity":1}},
{"data":{"name":"LA"},"transform":[{"filter":"datum.k === 'dia2'"}],"mark":{"type":"point","shape":"M-1,0L0,-0.83L1,0L0,0.83Z","size":420,"filled":true,"fill":"white","stroke":"black","strokeWidth":1.3,"opacity":1}},
{"data":{"name":"LA"},"transform":[{"filter":"datum.k === 'xx'"}],"mark":{"type":"point","shape":"M-1,-0.72L-0.72,-1L0,-0.28L0.72,-1L1,-0.72L0.28,0L1,0.72L0.72,1L0,0.28L-0.72,1L-1,0.72L-0.28,0Z","size":225,"filled":true,"fill":"black","strokeWidth":0,"opacity":1}},
{"data":{"name":"LA"},"transform":[{"filter":"datum.k === 'tit'"}],"mark":{"type":"text","font":"Liberation Serif","fontWeight":"bold","fontSize":26,"align":"left","baseline":"middle","color":"black"},"encoding":{"text":{"field":"t"}}},
{"data":{"name":"LA"},"transform":[{"filter":"datum.k === 'lab'"}],"mark":{"type":"text","font":"Liberation Serif","fontSize":25,"align":"left","baseline":"middle","color":"black"},"encoding":{"text":{"field":"t"}}},
{"data":{"name":"LA"},"transform":[{"filter":"datum.k === 'dag'"}],"mark":{"type":"text","font":"Liberation Serif","fontSize":24,"align":"center","baseline":"middle","color":"#3a3a3a"},"encoding":{"text":{"field":"t"}}},
{"data":{"name":"LA"},"transform":[{"filter":"datum.k === 'ddag'"}],"mark":{"type":"text","font":"Liberation Serif","fontSize":24,"align":"center","baseline":"middle","color":"black"},"encoding":{"text":{"field":"t"}}}
]},
{"width":566,"height":687,
"encoding":{"x":{"field":"x","type":"quantitative","scale":{"domain":[15,60],"nice":false,"zero":false},"axis":{"title":"2θ","values":[15,16,17,18,19,20,21,22,23,24,25,26,27,28,29,30,31,32,33,34,35,36,37,38,39,40,41,42,43,44,45,46,47,48,49,50,51,52,53,54,55,56,57,58,59,60],"labelExpr":"datum.value % 5 === 0 ? datum.label : ''","tickSize":{"condition":{"test":"datum.value % 5 === 0","value":8},"value":5}}},
"y":{"field":"y","type":"quantitative","scale":{"domain":[2,689],"nice":false,"zero":false},"axis":null}},
"layer":[
{"data":{"name":"R1"},"mark":{"type":"line","color":"#0070C0","strokeWidth":1.4,"clip":true}},
{"data":{"name":"R2"},"mark":{"type":"line","color":"#C00000","strokeWidth":1.4,"clip":true}},
{"data":{"name":"R3"},"mark":{"type":"line","color":"#4F6228","strokeWidth":1.4,"clip":true}},
{"data":{"name":"R4"},"mark":{"type":"line","color":"#8064A2","strokeWidth":1.4,"clip":true}},
{"data":{"name":"R5"},"mark":{"type":"line","color":"#000000","strokeWidth":1.4,"clip":true}},
{"data":{"name":"RA"},"transform":[{"filter":"datum.k === 'sq'"}],"mark":{"type":"point","shape":"square","size":121,"filled":true,"fill":"white","stroke":"black","strokeWidth":1.3,"opacity":1}},
{"data":{"name":"RA"},"transform":[{"filter":"datum.k === 'bsq'"}],"mark":{"type":"point","shape":"M-1,-0.75H1V0.75H-1Z","size":256,"filled":true,"fill":"white","stroke":"black","strokeWidth":1.3,"opacity":1}},
{"data":{"name":"RA"},"transform":[{"filter":"datum.k === 'tri'"}],"mark":{"type":"point","shape":"triangle-up","size":210,"filled":true,"fill":"white","stroke":"black","strokeWidth":1.3,"opacity":1}},
{"data":{"name":"RA"},"transform":[{"filter":"datum.k === 'cir'"}],"mark":{"type":"point","shape":"circle","size":169,"filled":true,"fill":"white","stroke":"black","strokeWidth":1.3,"opacity":1}},
{"data":{"name":"RA"},"transform":[{"filter":"datum.k === 'bcir'"}],"mark":{"type":"point","shape":"circle","size":225,"filled":true,"fill":"white","stroke":"black","strokeWidth":1.3,"opacity":1}},
{"data":{"name":"RA"},"transform":[{"filter":"datum.k === 'dia'"}],"mark":{"type":"point","shape":"M-1,0L0,-0.83L1,0L0,0.83Z","size":576,"filled":true,"fill":"white","stroke":"black","strokeWidth":1.3,"opacity":1}},
{"data":{"name":"RA"},"transform":[{"filter":"datum.k === 'dia2'"}],"mark":{"type":"point","shape":"M-1,0L0,-0.83L1,0L0,0.83Z","size":420,"filled":true,"fill":"white","stroke":"black","strokeWidth":1.3,"opacity":1}},
{"data":{"name":"RA"},"transform":[{"filter":"datum.k === 'xx'"}],"mark":{"type":"point","shape":"M-1,-0.72L-0.72,-1L0,-0.28L0.72,-1L1,-0.72L0.28,0L1,0.72L0.72,1L0,0.28L-0.72,1L-1,0.72L-0.28,0Z","size":225,"filled":true,"fill":"black","strokeWidth":0,"opacity":1}},
{"data":{"name":"RA"},"transform":[{"filter":"datum.k === 'la'"}],"mark":{"type":"point","shape":"M1,-0.13L-0.3,-0.13L-0.3,-0.36L-1,0L-0.3,0.36L-0.3,0.13L1,0.13Z","size":841,"filled":true,"fill":"black","strokeWidth":0,"opacity":1}},
{"data":{"name":"RA"},"transform":[{"filter":"datum.k === 'ra'"}],"mark":{"type":"point","shape":"M-1,-0.11L0.35,-0.11L0.35,-0.35L1,0L0.35,0.35L0.35,0.11L-1,0.11Z","size":1369,"filled":true,"fill":"black","strokeWidth":0,"opacity":1}},
{"data":{"name":"RA"},"transform":[{"filter":"datum.k === 'tit'"}],"mark":{"type":"text","font":"Liberation Serif","fontWeight":"bold","fontSize":26,"align":"left","baseline":"middle","color":"black"},"encoding":{"text":{"field":"t"}}},
{"data":{"name":"RA"},"transform":[{"filter":"datum.k === 'lab'"}],"mark":{"type":"text","font":"Liberation Serif","fontSize":25,"align":"left","baseline":"middle","color":"black"},"encoding":{"text":{"field":"t"}}},
{"data":{"name":"RA"},"transform":[{"filter":"datum.k === 'dag'"}],"mark":{"type":"text","font":"Liberation Serif","fontSize":24,"align":"center","baseline":"middle","color":"#3a3a3a"},"encoding":{"text":{"field":"t"}}},
{"data":{"name":"RA"},"transform":[{"filter":"datum.k === 'ast'"}],"mark":{"type":"text","font":"Liberation Serif","fontSize":28,"align":"center","baseline":"middle","dy":5,"color":"black"},"encoding":{"text":{"field":"t"}}}
]}
]
}
